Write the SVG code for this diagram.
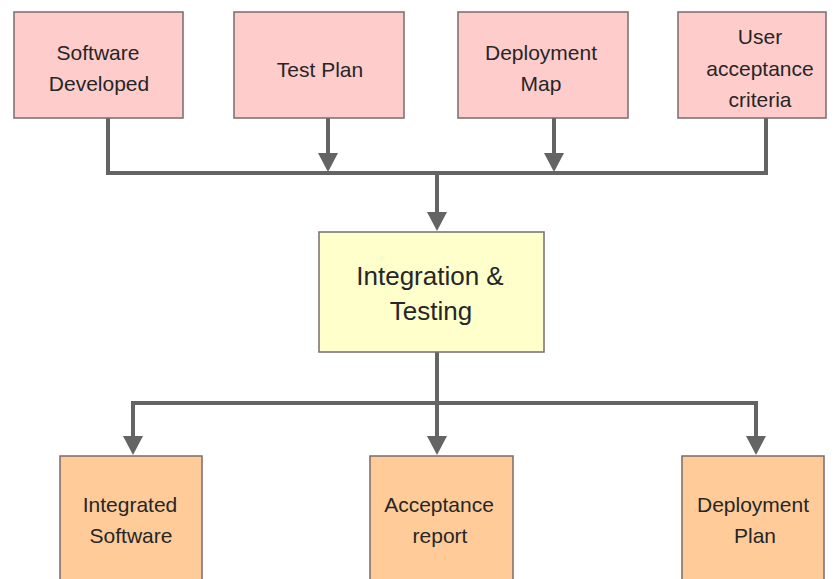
<svg xmlns="http://www.w3.org/2000/svg" width="836" height="579" viewBox="0 0 836 579">
<style>
.box{stroke:#7a6b6b;stroke-width:1.5}
.in{fill:#ffcccc}
.mid{fill:#ffffcc}
.out{fill:#ffcc99}
text{font-family:"Liberation Sans",Arial,sans-serif;fill:#262626;text-anchor:middle}
.t{font-size:21px}
.c{font-size:26px}
.ln{fill:none;stroke:#646464;stroke-width:4}
</style>
<defs>
<marker id="ah" markerUnits="userSpaceOnUse" markerWidth="20" markerHeight="20" refX="10" refY="10" orient="auto-start-reverse" viewBox="0 0 20 20">
<path d="M0,0 L19,10 L0,20 Z" fill="#646464"/>
</marker>
</defs>
<rect width="836" height="579" fill="#fff"/>
<g id="connectors">
<polyline class="ln" points="108,118 108,173 766,173 766,118"/>
<line class="ln" x1="328" y1="118" x2="328" y2="163" marker-end="url(#ah)"/>
<line class="ln" x1="554" y1="118" x2="554" y2="163" marker-end="url(#ah)"/>
<line class="ln" x1="437" y1="173" x2="437" y2="222" marker-end="url(#ah)"/>
<line class="ln" x1="437" y1="352" x2="437" y2="446" marker-end="url(#ah)"/>
<polyline class="ln" points="133,446 133,403 756,403 756,446" marker-start="url(#ah)" marker-end="url(#ah)"/>
</g>
<g id="software-developed">
<rect class="box in" x="14" y="12" width="169" height="106"/>
<text class="t" x="98" y="60">Software</text>
<text class="t" x="99" y="91">Developed</text>
</g>
<g id="test-plan">
<rect class="box in" x="234" y="12" width="170" height="106"/>
<text class="t" x="320" y="77">Test Plan</text>
</g>
<g id="deployment-map">
<rect class="box in" x="458" y="12" width="170" height="106"/>
<text class="t" x="541" y="60">Deployment</text>
<text class="t" x="541" y="91">Map</text>
</g>
<g id="user-acceptance">
<rect class="box in" x="678" y="12" width="148" height="106"/>
<text class="t" x="760" y="44">User</text>
<text class="t" x="760" y="76">acceptance</text>
<text class="t" x="760" y="107">criteria</text>
</g>
<g id="integration-testing">
<rect class="box mid" x="319" y="232" width="225" height="120"/>
<text class="c" x="430" y="285">Integration &amp;</text>
<text class="c" x="431" y="320">Testing</text>
</g>
<g id="integrated-software">
<rect class="box out" x="60" y="456" width="142" height="130"/>
<text class="t" x="130" y="512">Integrated</text>
<text class="t" x="131" y="543">Software</text>
</g>
<g id="acceptance-report">
<rect class="box out" x="370" y="456" width="143" height="130"/>
<text class="t" x="439" y="512">Acceptance</text>
<text class="t" x="440" y="543">report</text>
</g>
<g id="deployment-plan">
<rect class="box out" x="682" y="456" width="142" height="130"/>
<text class="t" x="753" y="512">Deployment</text>
<text class="t" x="755" y="543">Plan</text>
</g>
</svg>
